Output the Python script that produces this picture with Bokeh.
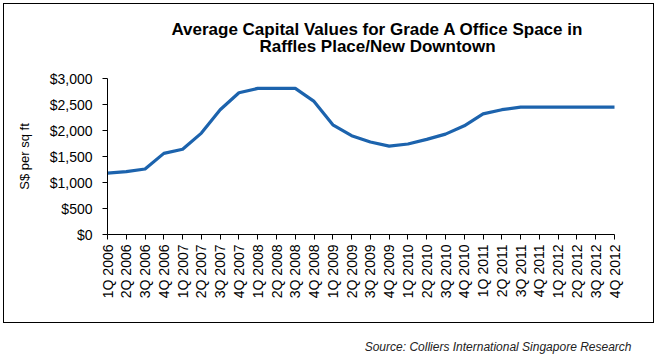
import math
from bokeh.plotting import figure
from bokeh.layouts import column
from bokeh.core.properties import value
from bokeh.models import (Range1d, FixedTicker, NumeralTickFormatter,
                          ColumnDataSource, InlineStyleSheet)
from bokeh.embed import file_html
from bokeh.resources import INLINE

# ---- data ----
quarters = [
    "1Q 2006", "2Q 2006", "3Q 2006", "4Q 2006",
    "1Q 2007", "2Q 2007", "3Q 2007", "4Q 2007",
    "1Q 2008", "2Q 2008", "3Q 2008", "4Q 2008",
    "1Q 2009", "2Q 2009", "3Q 2009", "4Q 2009",
    "1Q 2010", "2Q 2010", "3Q 2010", "4Q 2010",
    "1Q 2011", "2Q 2011", "3Q 2011", "4Q 2011",
    "1Q 2012", "2Q 2012", "3Q 2012", "4Q 2012",
]
capital_values = [
    1180, 1210, 1260, 1560,
    1640, 1950, 2400, 2725,
    2810, 2810, 2810, 2560,
    2110, 1900, 1780, 1700,
    1740, 1830, 1930, 2090,
    2320, 2400, 2450, 2450,
    2450, 2450, 2450, 2450,
]
y_ticks = [0, 500, 1000, 1500, 2000, 2500, 3000]
title_lines = ["Average Capital Values for Grade A Office Space in",
               "Raffles Place/New Downtown"]
y_label = "S$ per sq ft"
source_text = "Source: Colliers International Singapore Research"

FONT = "Liberation Sans"
LINE_COLOR = "#1c63ad"
W = 657
H_HEAD, H_MAIN, H_FOOT = 64, 260, 30
FRAME_LEFT = 107      # page x of the y axis
LAST_TICK_X = 614     # page x of the last category

# outer chart border drawn over the stacked figures
border_css = InlineStyleSheet(css="""
:host::after {
  content: "";
  position: absolute;
  left: 3px; top: 3px;
  width: 651px; height: 320px;
  box-sizing: border-box;
  border: 1.5px solid black;
  pointer-events: none;
  z-index: 10;
}
""")


def text_strip(height):
    """A plain figure used as a text strip, ranges in page pixels."""
    f = figure(width=W, height=height, output_backend="svg",
               toolbar_location=None, x_axis_type=None, y_axis_type=None,
               x_range=Range1d(FRAME_LEFT, W), y_range=Range1d(height, 0),
               min_border_left=FRAME_LEFT, min_border_right=0,
               min_border_top=0, min_border_bottom=0)
    f.outline_line_color = None
    f.background_fill_color = "white"
    f.border_fill_color = "white"
    return f


# ---- header with the two-line title ----
ph = text_strip(H_HEAD)
ph.text(x=[377, 377], y=[29, 46], text=title_lines,
        text_font=value(FONT), text_font_size="17px",
        text_font_style="bold", text_color="black",
        text_align="center", text_baseline="alphabetic")

# ---- main chart ----
n = len(quarters)
idx = list(range(n))
src = ColumnDataSource(dict(x=idx, y=capital_values))

# frame runs to the right edge; the axis itself stops at the last quarter
x_end = (n - 1) * (W - FRAME_LEFT) / (LAST_TICK_X - FRAME_LEFT)

p = figure(width=W, height=H_MAIN, output_backend="svg", toolbar_location=None,
           x_range=Range1d(0, x_end), y_range=Range1d(0, 3000),
           min_border_left=FRAME_LEFT, min_border_right=0,
           min_border_top=14, min_border_bottom=90)
p.outline_line_color = None
p.xgrid.grid_line_color = None
p.ygrid.grid_line_color = None
p.background_fill_color = "white"
p.border_fill_color = "white"

p.line("x", "y", source=src, line_color=LINE_COLOR, line_width=3.2,
       line_join="round")

xa = p.xaxis[0]
xa.bounds = (0, n - 1)
xa.ticker = FixedTicker(ticks=idx)
xa.major_label_overrides = {i: q for i, q in enumerate(quarters)}
xa.major_label_orientation = math.pi / 2
xa.major_label_text_font = FONT
xa.major_label_text_font_size = "14px"
xa.major_label_text_color = "black"
xa.major_label_standoff = 5
xa.major_tick_out = 5
xa.major_tick_in = 0
xa.minor_tick_out = 0
xa.minor_tick_in = 0
xa.axis_line_color = "black"
xa.major_tick_line_color = "black"

ya = p.yaxis[0]
ya.ticker = FixedTicker(ticks=y_ticks)
ya.formatter = NumeralTickFormatter(format="$0,0")
ya.major_label_text_font = FONT
ya.major_label_text_font_size = "14px"
ya.major_label_text_color = "black"
ya.major_label_standoff = 10
ya.major_tick_out = 5
ya.major_tick_in = 0
ya.minor_tick_out = 0
ya.minor_tick_in = 0
ya.axis_line_color = "black"
ya.major_tick_line_color = "black"
ya.axis_label = y_label
ya.axis_label_text_font = FONT
ya.axis_label_text_font_size = "13px"
ya.axis_label_text_font_style = "normal"
ya.axis_label_text_color = "black"
ya.axis_label_standoff = 15

# ---- footer with the source note ----
pf = text_strip(H_FOOT)
pf.text(x=[631], y=[22], text=[source_text],
        text_font=value(FONT), text_font_size="12px",
        text_font_style="italic", text_color="#222222",
        text_align="right", text_baseline="alphabetic")

layout = column(ph, p, pf, spacing=0, stylesheets=[border_css])

open("out.html", "w").write(file_html(layout, INLINE))
